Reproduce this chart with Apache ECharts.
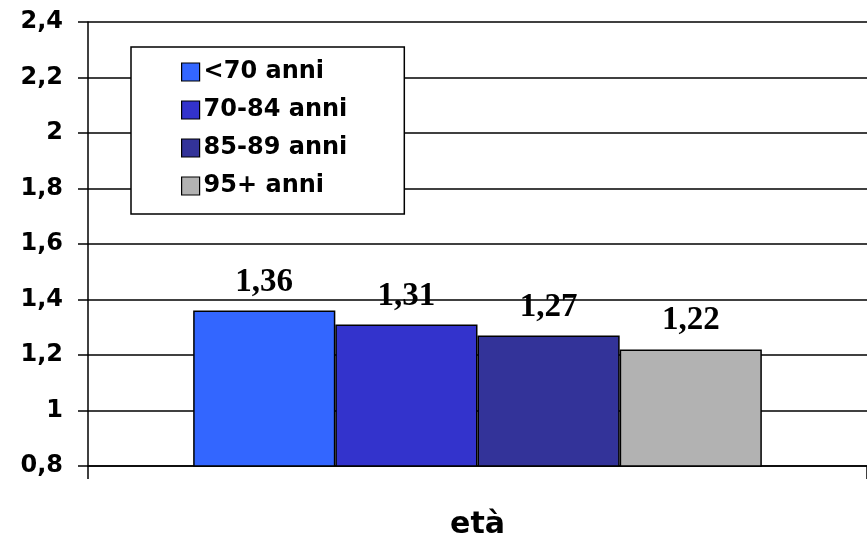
<!DOCTYPE html>
<html>
<head>
<meta charset="utf-8">
<script src="https://cdn.jsdelivr.net/npm/echarts@6/dist/echarts.min.js"></script>
<style>html,body{margin:0;padding:0;background:#fff}#c{width:867px;height:546px}</style>
</head>
<body>
<div id="c"></div>
<script>
const categories = [''];
const seriesNames = ['<70 anni', '70-84 anni', '85-89 anni', '95+ anni'];
const seriesValues = [1.36, 1.31, 1.27, 1.22];
const seriesColors = ['#3366FF', '#3333CC', '#333399', '#B2B2B2'];
const axisName = 'età';

const chart = echarts.init(document.getElementById('c'), null, {renderer: 'canvas'});
const sansBold = {fontFamily: 'DejaVu Sans', fontWeight: 'bold', color: '#000'};
chart.setOption({
  animation: false,
  backgroundColor: '#fff',
  grid: {left: 88, right: 0, top: 22, bottom: 80, containLabel: false, outerBoundsMode: 'none'},
  legend: {
    orient: 'vertical',
    left: 131, top: 47,
    padding: [13, 57, 16, 50],
    itemGap: 14,
    itemWidth: 18, itemHeight: 18,
    backgroundColor: '#fff',
    borderColor: '#000', borderWidth: 1.5,
    textStyle: Object.assign({fontSize: 24, lineHeight: 24, padding: [0,0,0,-1]}, sansBold),
    data: seriesNames.map(n => ({name: n, icon: 'rect', itemStyle: {borderColor: '#000', borderWidth: 1.2}}))
  },
  xAxis: {
    type: 'category',
    data: categories,
    name: axisName,
    nameLocation: 'middle',
    nameGap: 44,
    nameTextStyle: Object.assign({fontSize: 30}, sansBold),
    axisLine: {show: true, lineStyle: {color: '#000', width: 1.5}},
    axisTick: {show: true, length: 13, lineStyle: {color: '#000', width: 1.5}},
    axisLabel: {show: false}
  },
  yAxis: {
    type: 'value',
    min: 0.8, max: 2.4, interval: 0.2,
    axisLine: {show: true, lineStyle: {color: '#000', width: 1.5}},
    axisTick: {show: true, length: 10, lineStyle: {color: '#000', width: 1.5}},
    splitLine: {show: true, lineStyle: {color: '#000', width: 1.5}},
    axisLabel: Object.assign({fontSize: 24, margin: 25,
      formatter: v => String(Math.round(v * 10) / 10).replace('.', ',')}, sansBold)
  },
  series: seriesNames.map((name, i) => ({
    name: name,
    type: 'bar',
    barGap: '0%',
    barCategoryGap: '27%',
    data: [seriesValues[i]],
    itemStyle: {color: seriesColors[i], borderColor: '#000', borderWidth: 1.5},
    label: {
      show: true, position: 'top', distance: 12,
      fontFamily: 'Liberation Serif', fontWeight: 'bold', fontSize: 33, color: '#000',
      formatter: p => p.value.toFixed(2).replace('.', ',')
    }
  }))
});
</script>
</body>
</html>
